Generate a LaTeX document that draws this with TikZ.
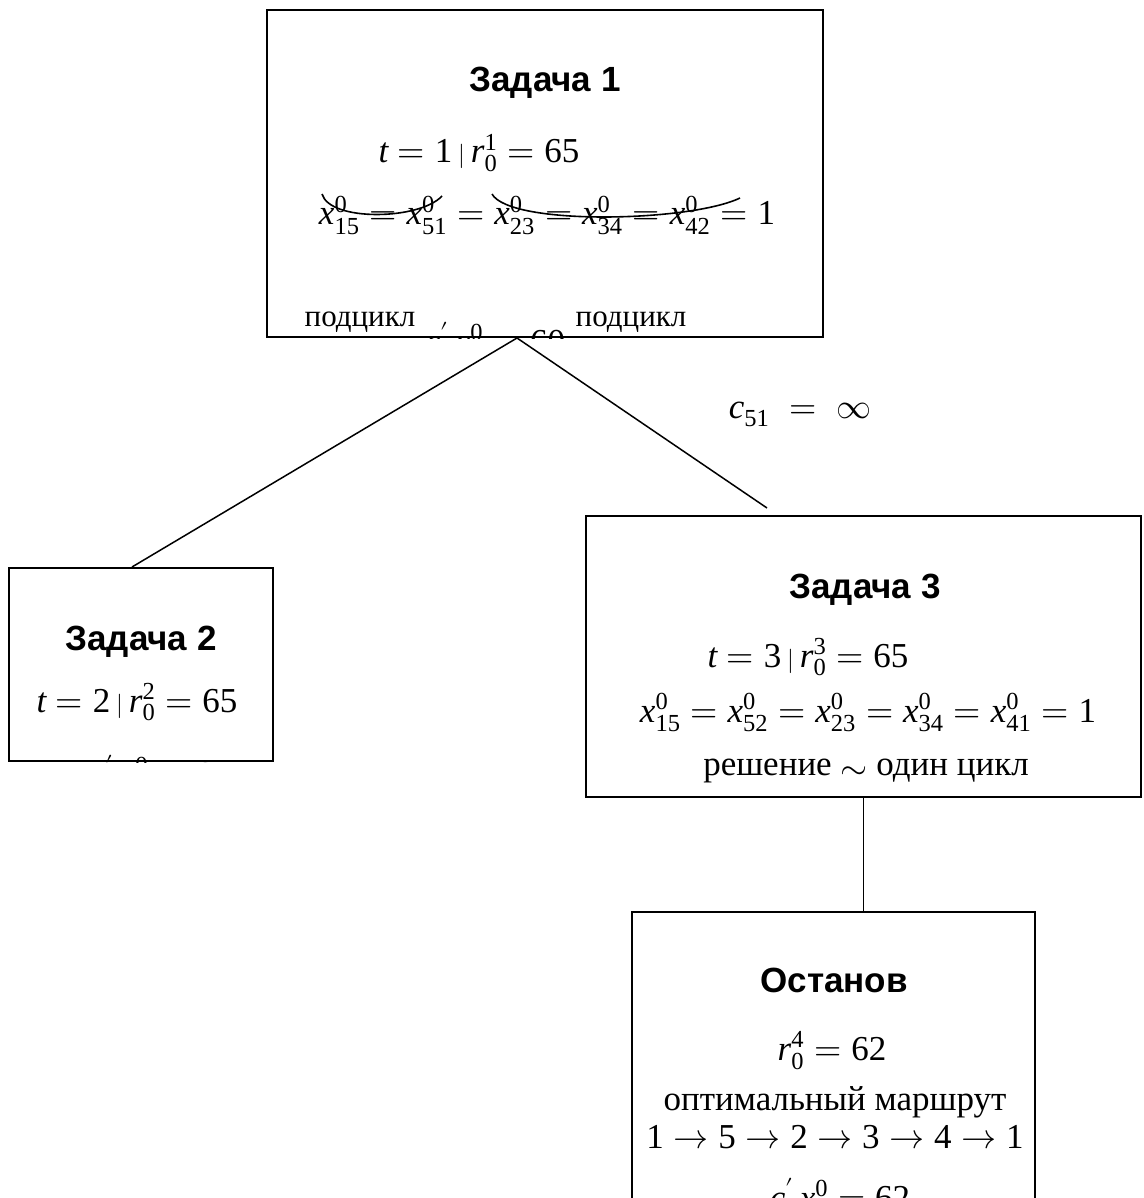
\documentclass[tikz,border=0pt]{standalone}
\usepackage{fontspec}
\usepackage{unicode-math}
\setmainfont{Liberation Serif}
\setsansfont{Liberation Sans}
\setmathfont{Latin Modern Math}
\setmathfont{Liberation Serif}[range=up/num]
\usetikzlibrary{positioning}
\newcommand{\mv}[1]{\textit{#1}}

\begin{document}
\begin{tikzpicture}[
    x=0.5pt, y=-0.5pt,
    task/.style={rectangle, draw, line width=1pt, inner sep=0pt},
    head/.style={anchor=base, inner sep=0pt, font=\sffamily\bfseries\fontsize{17.5}{21}\selectfont},
    txt/.style={anchor=base, inner sep=0pt, font=\fontsize{17.5}{21}\selectfont},
    small/.style={txt, font=\fontsize{15.5}{19}\selectfont},
    edge/.style={line width=0.75pt}
]
\useasboundingbox (0,0) rectangle (1144,1198);
\clip (0,0) rectangle (1144,1198);

% the four boxes of the tree
\node[task, minimum width=278pt, minimum height=163.5pt] (z1) at (545,173.5) {};
\node[task, minimum width=132pt, minimum height=96.5pt] (z2) at (141,664.5) {};
\node[task, minimum width=277.5pt, minimum height=140.5pt] (z3) at (863.5,656.5) {};
\node[task, minimum width=201.5pt, minimum height=174pt] (z4) at (833.5,1086) {};

% Задача 1
\node[head] (h1) at (545,92) {Задача 1};
\node[txt] (r1) at (479,163) {$\mv{t} = 1\,{\scriptstyle|}\,\mv{r}_0^1 = 65$};
\node[txt] (x1) at (547,225) {$\mv{x}_{15}^0 = \mv{x}_{51}^0 = \mv{x}_{23}^0 = \mv{x}_{34}^0 = \mv{x}_{42}^0 = 1$};
\draw[line width=0.8pt] (322,194) .. controls (330,222) and (420,220) .. (442,196);
\draw[line width=0.8pt] (492,194) .. controls (510,226) and (690,222) .. (740,198);
\node[small] (p1) at (360,326) {подцикл};
\node[small] (p2) at (631,326) {подцикл};
\begin{scope}
  \clip (z1.south west) rectangle (z1.north east);
  \node[txt] (k1) at (495,353) {$\mv{c}'\,\mv{x}^0 = 60$};
\end{scope}

% Задача 2
\node[head] (h2) at (141,650) {Задача 2};
\node[txt] (r2) at (137,712) {$\mv{t} = 2\,{\scriptstyle|}\,\mv{r}_0^2 = 65$};
\begin{scope}
  \clip (z2.south west) rectangle (z2.north east);
  \node[txt] (k2) at (160,786) {$\mv{c}'\,\mv{x}^0 = 65$};
\end{scope}

% Задача 3
\node[head] (h3) at (865,598) {Задача 3};
\node[txt] (r3) at (808,667) {$\mv{t} = 3\,{\scriptstyle|}\,\mv{r}_0^3 = 65$};
\node[txt] (x3) at (868,722) {$\mv{x}_{15}^0 = \mv{x}_{52}^0 = \mv{x}_{23}^0 = \mv{x}_{34}^0 = \mv{x}_{41}^0 = 1$};
\node[txt] (s3) at (866,775) {решение \raisebox{-0.3ex}{$\sim$} один цикл};

% Останов
\node[head] (h4) at (834,992) {Останов};
\node[txt] (r4) at (832,1060) {$\mv{r}_0^4 = 62$};
\node[txt] (m4) at (835,1110) {оптимальный маршрут};
\node[txt] (w4) at (835,1148) {$1 \rightarrow 5 \rightarrow 2 \rightarrow 3 \rightarrow 4 \rightarrow 1$};
\node[txt] (k4) at (840,1209) {$\mv{c}'\,\mv{x}^0 = 62$};

% branches
\coordinate (e3) at (767,508);
\draw[edge] ([xshift=-14pt]z1.south) -- ([xshift=-4.5pt]z2.north);
\draw[edge] ([xshift=-14pt]z1.south) -- (e3);
\draw[edge] (z3.south) -- (z3.south |- z4.north);
\node[txt] (c51) at (800,418) {$\mv{c}_{51}\;=\;\infty$};
\end{tikzpicture}
\end{document}
